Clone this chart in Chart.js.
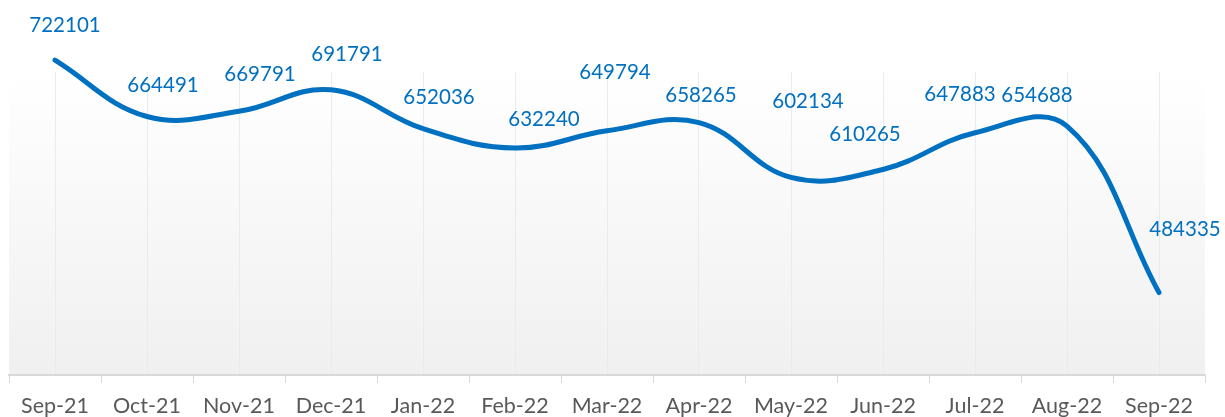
<!DOCTYPE html>
<html>
<head>
<meta charset="utf-8">
<script src="https://cdn.jsdelivr.net/npm/chart.js@4"></script>
<style>
  html, body { margin: 0; padding: 0; background: #fff; }
  #wrap { width: 1225px; height: 417px; }
</style>
</head>
<body>
<div id="wrap"><canvas id="line-chart"></canvas></div>
<script>
// chart data
const months = ['Sep-21', 'Oct-21', 'Nov-21', 'Dec-21', 'Jan-22', 'Feb-22', 'Mar-22',
                'Apr-22', 'May-22', 'Jun-22', 'Jul-22', 'Aug-22', 'Sep-22'];
const totals = [722101, 664491, 669791, 691791, 652036, 632240, 649794,
                658265, 602134, 610265, 647883, 654688, 484335];

// label nudges (px from point), the labels were hand placed in the original
const labelDx = [10, 16, 21, 16, 16, 29, 8, 2, 17, -18, -15, -30, 26];
const labelDy = [-35, -31, -37, -35, -31, -29, -58, -27, -76, -35, -38, -31, -63];

const blue = '#0070c0';
const font = 'Lato, "Open Sans", sans-serif';

// plot area gradient, like the excel fill
const plotBg = {
    id: 'plotBg',
    beforeDraw(chart) {
        const { ctx, chartArea: a } = chart;
        const g = ctx.createLinearGradient(0, a.top, 0, a.bottom);
        g.addColorStop(0, '#ffffff');
        g.addColorStop(1, '#f0f0f0');
        ctx.save();
        ctx.fillStyle = g;
        ctx.fillRect(a.left, a.top, a.right - a.left, a.bottom - a.top);
        ctx.restore();
    }
};

// value labels
const valueLabels = {
    id: 'valueLabels',
    afterDatasetsDraw(chart) {
        const ctx = chart.ctx;
        const meta = chart.getDatasetMeta(0);
        ctx.save();
        ctx.font = '20.5px ' + font;
        ctx.fillStyle = blue;
        ctx.textAlign = 'center';
        ctx.textBaseline = 'middle';
        meta.data.forEach((pt, i) => {
            ctx.fillText(String(totals[i]), pt.x + labelDx[i], pt.y + labelDy[i]);
        });
        ctx.restore();
    }
};

new Chart(
    document.getElementById('line-chart'),
    {
        type: 'line',
        data: {
            labels: months,
            datasets: [{
                data: totals,
                borderColor: blue,
                borderWidth: 5,
                borderCapStyle: 'round',
                tension: 0.4,
                pointRadius: 0,
                fill: false,
                clip: false
            }]
        },
        options: {
            responsive: true,
            maintainAspectRatio: false,
            animation: false,
            layout: { padding: { left: 9, right: 20, top: 72, bottom: 0 } },
            plugins: {
                legend: { display: false },
                tooltip: { enabled: false }
            },
            scales: {
                y: {
                    display: false,
                    min: 400000,
                    max: 710000
                },
                // tick marks between categories + axis line
                xTicks: {
                    type: 'category',
                    labels: months,
                    position: 'bottom',
                    weight: 0,
                    offset: true,
                    grid: {
                        offset: true,
                        drawOnChartArea: false,
                        tickLength: 8,
                        color: '#d9d9d9',
                        lineWidth: 1
                    },
                    border: { color: '#d9d9d9', width: 2 },
                    ticks: { display: false },
                    afterFit(scale) { scale.height = 8; }
                },
                // labels + vertical gridlines at the points
                x: {
                    position: 'bottom',
                    weight: 1,
                    offset: true,
                    grid: {
                        offset: false,
                        drawTicks: false,
                        color: '#e6ecf3',
                        lineWidth: 1
                    },
                    border: { display: false },
                    ticks: {
                        color: '#595959',
                        font: { family: font, size: 21.5 },
                        padding: 10,
                        maxRotation: 0,
                        autoSkip: false
                    },
                    afterFit(scale) { scale.height = 34; }
                }
            }
        },
        plugins: [plotBg, valueLabels]
    }
);
</script>
</body>
</html>
